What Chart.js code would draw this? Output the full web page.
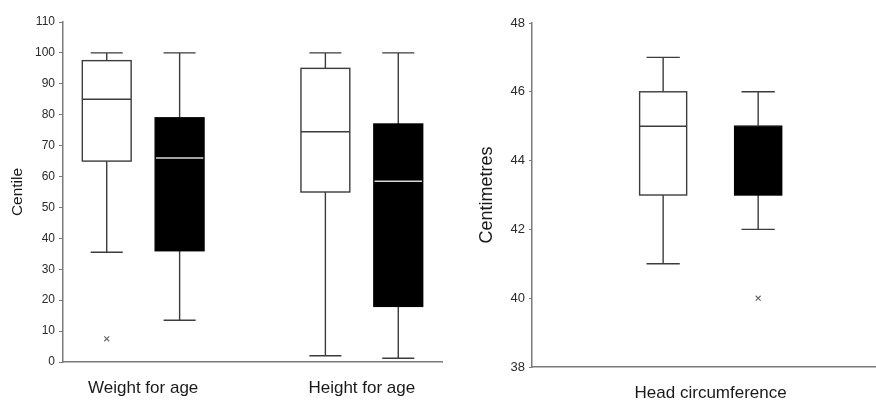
<!DOCTYPE html>
<html>
<head>
<meta charset="utf-8">
<script src="https://cdn.jsdelivr.net/npm/chart.js@4.4.1/dist/chart.umd.min.js"></script>
<style>
  html, body { margin: 0; padding: 0; background: #fff; }
  #wrap { position: relative; width: 876px; height: 401px; overflow: hidden; }
  canvas { position: absolute; top: 0; }
  #left  { left: 0; }
  #right { left: 450px; }
</style>
</head>
<body>
<div id="wrap">
  <canvas id="left" width="446" height="401"></canvas>
  <canvas id="right" width="426" height="401"></canvas>
</div>
<script>
// ── Data: centile panel (weight / height for age) ──────────────────────────
const centileGroups    = ['Weight for age', 'Height for age'];
const centileGroupPos  = [1.5, 4.5];
const centilePositions = [1, 2, 4, 5];
const centileLow       = [35.5, 13.5, 2, 1.2];
const centileQ1        = [65, 36, 55, 18];
const centileMedian    = [85, 66, 74.5, 58.5];
const centileQ3        = [97.5, 79, 95, 77];
const centileHigh      = [100, 100, 100, 100];
const centileOutlierPos = [1];
const centileOutlierVal = [7.5];
const centileTicks     = [0, 10, 20, 30, 40, 50, 60, 70, 80, 90, 100, 110];

// ── Data: head circumference panel ─────────────────────────────────────────
const headGroups     = ['Head circumference'];
const headGroupPos   = [1.5];
const headPositions  = [1, 2];
const headLow        = [41, 42];
const headQ1         = [43, 43];
const headMedian     = [45, 45];
const headQ3         = [46, 45];
const headHigh       = [47, 46];
const headOutlierPos = [2];
const headOutlierVal = [40];
const headTicks      = [38, 40, 42, 44, 46, 48];

// open box / filled box alternate
const boxFills = ['#ffffff', '#000000'];

const FONT = 'Liberation Sans, Arial, sans-serif';
const LINE = '#3c3c3c';
const AXIS = '#7a7a7a';

// Draws boxes, whiskers and medians from the stats arrays via the chart's scales
const boxPlotPlugin = {
  id: 'boxPlot',
  beforeDatasetsDraw(chart, args, o) {
    const { ctx, scales: { x, y } } = chart;
    ctx.save();
    ctx.lineWidth = 1.4;
    o.positions.forEach((p, i) => {
      const cx  = x.getPixelForValue(p);
      const bl  = x.getPixelForValue(p - o.boxWidth / 2);
      const br  = x.getPixelForValue(p + o.boxWidth / 2);
      const cl  = x.getPixelForValue(p - o.capWidth / 2);
      const cr  = x.getPixelForValue(p + o.capWidth / 2);
      const yLo = y.getPixelForValue(o.low[i]);
      const yQ1 = y.getPixelForValue(o.q1[i]);
      const yMd = y.getPixelForValue(o.median[i]);
      const yQ3 = y.getPixelForValue(o.q3[i]);
      const yHi = y.getPixelForValue(o.high[i]);
      const fill = boxFills[i % boxFills.length];

      // whiskers + caps
      ctx.strokeStyle = LINE;
      ctx.beginPath();
      ctx.moveTo(cx, yQ1); ctx.lineTo(cx, yLo);
      ctx.moveTo(cl, yLo); ctx.lineTo(cr, yLo);
      ctx.moveTo(cx, yQ3); ctx.lineTo(cx, yHi);
      ctx.moveTo(cl, yHi); ctx.lineTo(cr, yHi);
      ctx.stroke();

      // box
      ctx.fillStyle = fill;
      ctx.fillRect(bl, yQ3, br - bl, yQ1 - yQ3);

      // median
      ctx.strokeStyle = fill === '#000000' ? '#d8d8d8' : LINE;
      ctx.beginPath();
      ctx.moveTo(bl, yMd); ctx.lineTo(br, yMd);
      ctx.stroke();

      ctx.strokeStyle = fill === '#000000' ? '#000000' : LINE;
      ctx.strokeRect(bl, yQ3, br - bl, yQ1 - yQ3);
    });
    ctx.restore();
  }
};

function makePanel(canvas, cfg) {
  return new Chart(canvas, {
    type: 'scatter',
    data: {
      datasets: [{
        data: cfg.outlierPos.map((p, i) => ({ x: p, y: cfg.outlierVal[i] })),
        pointStyle: 'crossRot',
        radius: 3.5,
        borderColor: '#6a6a6a',
        borderWidth: 1.2,
        backgroundColor: '#6a6a6a'
      }]
    },
    plugins: [boxPlotPlugin],
    options: {
      responsive: false,
      animation: false,
      devicePixelRatio: 1,
      layout: { padding: cfg.padding, autoPadding: false },
      scales: {
        x: {
          type: 'linear',
          min: cfg.xMin,
          max: cfg.xMax,
          afterFit: s => { s.height = cfg.xHeight; },
          afterBuildTicks: s => { s.ticks = cfg.groupPos.map(v => ({ value: v })); },
          ticks: {
            autoSkip: false,
            maxRotation: 0,
            padding: 16,
            color: '#1a1a1a',
            font: { family: FONT, size: 17 },
            callback: (v, idx) => cfg.groups[idx]
          },
          grid: { drawOnChartArea: false, drawTicks: false },
          border: { color: AXIS, width: 1.5 }
        },
        y: {
          min: cfg.ticks[0],
          max: cfg.ticks[cfg.ticks.length - 1],
          afterFit: s => { s.width = cfg.yWidth; },
          afterBuildTicks: s => { s.ticks = cfg.ticks.map(v => ({ value: v })); },
          ticks: {
            padding: 4,
            color: '#2a2a2a',
            font: { family: FONT, size: cfg.tickSize }
          },
          grid: { drawOnChartArea: false, tickLength: cfg.tickLength, color: AXIS },
          border: { color: AXIS, width: 1.5 },
          title: {
            display: true,
            text: cfg.yTitle,
            color: '#1a1a1a',
            padding: { top: cfg.titlePad, bottom: 0 },
            font: { family: FONT, size: cfg.titleSize, lineHeight: 1.2 }
          }
        }
      },
      plugins: {
        legend: { display: false },
        tooltip: { enabled: false },
        boxPlot: {
          positions: cfg.positions,
          low: cfg.low, q1: cfg.q1, median: cfg.median, q3: cfg.q3, high: cfg.high,
          boxWidth: cfg.boxWidth,
          capWidth: cfg.capWidth
        }
      }
    }
  });
}

makePanel(document.getElementById('left'), {
  groups: centileGroups, groupPos: centileGroupPos, positions: centilePositions,
  low: centileLow, q1: centileQ1, median: centileMedian, q3: centileQ3, high: centileHigh,
  outlierPos: centileOutlierPos, outlierVal: centileOutlierVal, ticks: centileTicks,
  xMin: 0.4, xMax: 5.6, boxWidth: 0.67, capWidth: 0.44,
  padding: { left: 0, top: 22, right: 4, bottom: 0 },
  xHeight: 39, yWidth: 63, tickSize: 12, tickLength: 4,
  yTitle: 'Centile', titleSize: 15.5, titlePad: 8
});

makePanel(document.getElementById('right'), {
  groups: headGroups, groupPos: headGroupPos, positions: headPositions,
  low: headLow, q1: headQ1, median: headMedian, q3: headQ3, high: headHigh,
  outlierPos: headOutlierPos, outlierVal: headOutlierVal, ticks: headTicks,
  xMin: -0.38, xMax: 3.24, boxWidth: 0.495, capWidth: 0.35,
  padding: { left: 0, top: 23, right: 0, bottom: 0 },
  xHeight: 34, yWidth: 82, tickSize: 13, tickLength: 3,
  yTitle: 'Centimetres', titleSize: 18, titlePad: 26
});
</script>
</body>
</html>
